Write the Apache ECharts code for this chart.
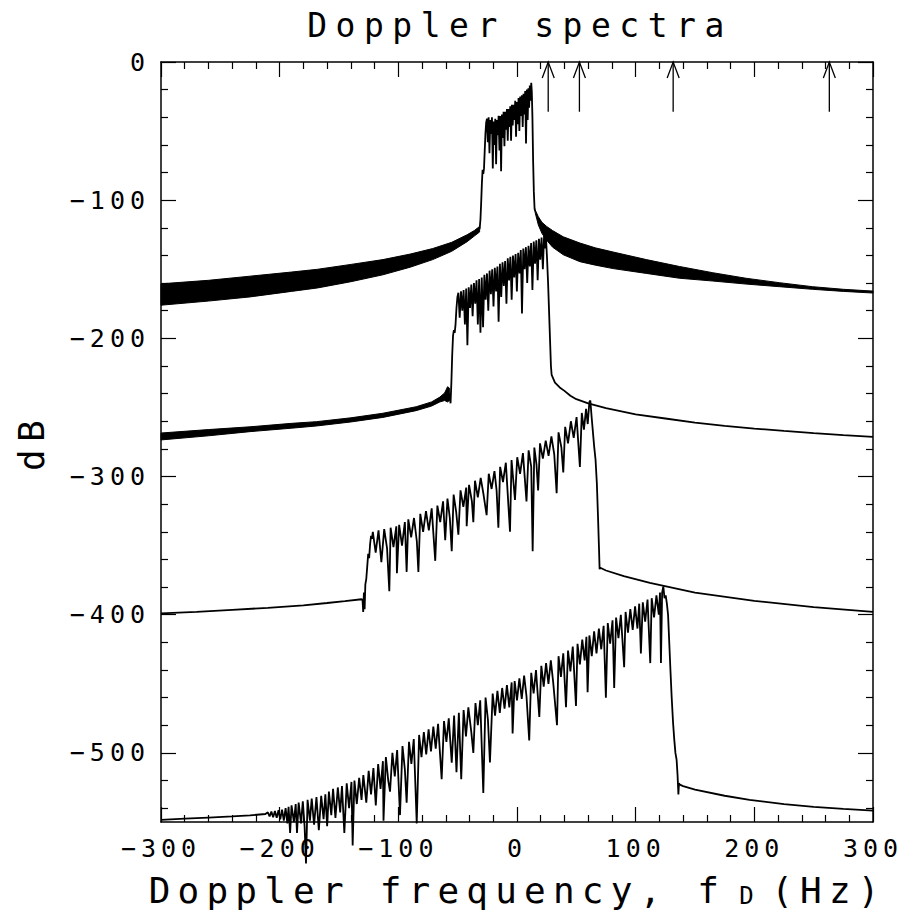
<!DOCTYPE html>
<html>
<head>
<meta charset="utf-8">
<title>Doppler spectra</title>
<script src="https://cdn.jsdelivr.net/npm/echarts@6.0.0/dist/echarts.min.js"></script>
<style>
  html, body { margin: 0; padding: 0; background: #fff; }
  #chart { width: 907px; height: 919px; }
  /* the reference uses a widely spaced plotter font */
  #chart text { letter-spacing: 0.2em; }
  #chart text[style*="33px"] { letter-spacing: 8.5px; }
  #chart text[style*="25px"] { letter-spacing: 5px; }
  #chart text[style*="24px"] { letter-spacing: 2px; }
</style>
</head>
<body>
<div id="chart"></div>
<script>
var FONT = '"DejaVu Sans Mono", monospace';

// tick values
var yMajorTicks = [0, -100, -200, -300, -400, -500];
var yMinorTicks = [-20, -40, -60, -80, -120, -140, -160, -180, -220, -240, -260, -280,
    -320, -340, -360, -380, -420, -440, -460, -480, -520, -540];

// arrows on top (Hz) and their length (dB)
var arrowFreqs = [26.3, 52.6, 131.6, 263.2];
var arrowLen = 36;

// dense oscillating tails, kept as [fD, upper dB, lower dB]
var band1Left = [[-300, -160.5, -176], [-260, -158, -173], [-225, -155, -170], [-190, -152, -166],
    [-168, -150, -163.5], [-140, -146.5, -159], [-113, -143, -154], [-90, -139, -148.5],
    [-71, -135, -143], [-55, -130.5, -137], [-42, -125, -130], [-36, -122, -126], [-31.5, -119, -123]];
var band1Right = [[15.3, -107, -109], [18, -112, -118], [21, -116, -124], [25, -119, -129],
    [30, -122, -134], [39, -126.5, -139.5], [53, -131, -144.5], [66, -134.5, -147], [81, -137.5, -149.5],
    [109, -143, -153], [137, -148, -156.5], [165, -152.5, -158.5], [193, -156.5, -160.7],
    [221, -159.7, -162.6], [249, -162.6, -164.5], [275, -164.5, -166], [300, -165.8, -167.2]];
var band2Left = [[-300, -268.5, -273.5], [-260, -266, -270.5], [-225, -264, -267.5], [-190, -261.5, -265],
    [-169, -260.3, -263.4], [-140, -257.5, -260.5], [-113, -254.2, -257.2], [-85, -249.5, -252.3],
    [-72, -246, -249], [-65, -242.5, -246], [-61, -239.5, -245], [-58.5, -235, -246], [-57, -236, -245]];

// spectrum 1 (top)
var spec1 = [[-31.5, -121], [-30.8, -114], [-30.2, -102], [-29.6, -88], [-29, -78], [-28.4, -81], [-27.8, -77],
    [-27.2, -64], [-26.6, -52], [-26, -44], [-25.3, -41], [-24.6, -58], [-23.9, -40], [-23.2, -66], [-22.5, -42],
    [-21.8, -52], [-21.1, -40], [-20.4, -77], [-19.7, -43], [-19, -60], [-18.3, -41], [-17.6, -74], [-16.9, -42],
    [-16.2, -53], [-15.5, -39], [-14.8, -64], [-14.1, -39], [-13.4, -79], [-12.7, -38], [-12, -55], [-11.3, -36],
    [-10.6, -61], [-9.9, -36], [-9.2, -49], [-8.5, -34], [-7.8, -57], [-7.1, -34], [-6.4, -47], [-5.7, -32],
    [-5, -57], [-4.3, -31], [-3.6, -46], [-2.9, -31], [-2.2, -42], [-1.5, -28], [-0.8, -54], [-0.1, -29],
    [0.6, -45], [1.3, -26], [2, -50], [2.7, -25], [3.4, -39], [4.1, -24], [4.8, -47], [5.5, -23], [6.2, -38],
    [6.9, -21], [7.6, -59], [8.3, -20], [9, -42], [9.6, -19], [10.2, -33], [10.8, -17], [11.4, -28], [12, -15],
    [12.5, -22], [13, -40], [13.6, -72], [14.2, -94], [14.8, -106], [15.3, -108]];

// spectrum 2
var spec2 = [[-57, -240], [-56, -247], [-55.3, -232], [-54.6, -212], [-53.9, -198], [-53.2, -194], [-52.5, -196],
    [-51.8, -190], [-51, -178], [-50.2, -170], [-49.4, -167], [-48.3, -185], [-47.2, -166], [-46.1, -180],
    [-45, -165], [-43.9, -190], [-42.8, -164], [-41.8, -205], [-40.7, -163], [-39.6, -178], [-38.5, -161],
    [-37.4, -184], [-36.3, -160], [-35.2, -175], [-34.1, -158], [-33, -190], [-31.9, -157], [-30.8, -196],
    [-29.7, -156], [-28.6, -192], [-27.5, -154], [-26.4, -172], [-25.3, -153], [-24.2, -180], [-23.1, -151],
    [-22, -168], [-20.9, -150], [-19.8, -177], [-18.7, -149], [-17.6, -166], [-16.5, -148], [-15.5, -188],
    [-14.4, -146], [-13.3, -170], [-12.2, -145], [-11.1, -162], [-10, -144], [-8.9, -175], [-7.8, -142],
    [-6.7, -158], [-5.6, -141], [-4.5, -172], [-3.4, -140], [-2.3, -156], [-1.2, -139], [-0.1, -166],
    [1, -138], [2.1, -153], [3.2, -136], [4.2, -182], [5.3, -135], [6.4, -150], [7.5, -134], [8.6, -160],
    [9.7, -133], [10.8, -148], [11.9, -131], [13, -165], [14.1, -130], [15.2, -146], [16.3, -129], [17.4, -158],
    [18.5, -128], [19.6, -143], [20.7, -127], [21.8, -150], [22.8, -126], [23.6, -135], [24.3, -125],
    [25.2, -140], [26.2, -160], [27.2, -185], [28, -205], [28.6, -220], [29.2, -226.5], [32, -232], [36, -235.5],
    [40, -238], [45, -241.5], [50, -244], [60, -247], [75, -250.5], [100, -255], [125, -258], [150, -261],
    [175, -263.3], [200, -265.3], [225, -267], [250, -268.6], [275, -270], [300, -271.3]];

// spectrum 3
var spec3 = [[-300, -399], [-270, -398], [-240, -396.5], [-210, -395], [-180, -393.2], [-160, -391.5],
    [-145, -390.2], [-131, -388.8], [-130.2, -389], [-129.6, -398], [-129, -384], [-128.4, -396], [-127.8, -378],
    [-127, -374], [-126.2, -365], [-125.4, -356], [-124.6, -359], [-123.8, -349], [-123, -343], [-122.2, -345],
    [-121.5, -340], [-119.1, -355], [-116.7, -339], [-114.3, -362], [-111.9, -338], [-109.5, -352],
    [-107.6, -383], [-106.5, -337], [-104.1, -351], [-101.7, -336], [-101.2, -370], [-99.3, -335],
    [-96.9, -350], [-94.5, -333], [-93, -369], [-91.6, -331], [-89.2, -344], [-86.8, -330], [-84.4, -347],
    [-83.1, -369], [-81.5, -327], [-79.1, -340], [-76.7, -325], [-74.3, -339], [-71.9, -323], [-68.9, -361],
    [-67.1, -321], [-64.7, -333], [-62.3, -318], [-60.5, -346], [-58.6, -316], [-56.6, -330], [-55, -354],
    [-53.4, -313], [-51.2, -326], [-49.4, -342], [-47.6, -310], [-45.2, -322], [-42.8, -308], [-42.4, -336],
    [-40.4, -306], [-38, -318], [-36.8, -333], [-35.4, -303], [-33, -315], [-30.6, -301], [-28.2, -313],
    [-25.6, -328], [-23.8, -298], [-21.4, -309], [-19, -296], [-17.2, -310], [-15.7, -337], [-14.2, -293],
    [-11.8, -304], [-9.4, -290], [-5.9, -340], [-4.6, -288], [-1.7, -317], [0.2, -286], [2.6, -298], [5, -283],
    [8, -318], [9.8, -281], [12, -293], [13.2, -354], [14.6, -279], [16.4, -291], [17.8, -310], [19.4, -276],
    [21.8, -287], [24.2, -274], [26.6, -285], [29, -271], [31.4, -284], [33.4, -312], [35, -268], [37.4, -279],
    [39, -297], [40.6, -264], [43, -276], [45.4, -260], [47.8, -272], [50.2, -257], [53, -293], [54.6, -254],
    [56.4, -266], [58.2, -251], [59.6, -262], [61, -246], [61.8, -245], [62.8, -256], [63.8, -266], [65, -278],
    [66.2, -288], [67.3, -305], [68.3, -330], [69.1, -352], [69.6, -367], [70.2, -366], [75, -368], [90, -372],
    [112, -377], [150, -384], [200, -390], [250, -394.5], [300, -398]];

// spectrum 4 (bottom)
var spec4 = [[-300, -548.5], [-280, -547.6], [-260, -546.8], [-240, -546], [-225, -545.2], [-212, -544.2],
    [-210, -543], [-208.5, -546], [-207, -542.5], [-205.5, -546.5], [-204, -542], [-202.5, -547], [-201, -541.5],
    [-199.5, -548], [-198, -541], [-196.5, -549], [-195, -540], [-193.5, -551], [-192.5, -539], [-191.2, -558],
    [-190, -538], [-188, -550], [-186.5, -537], [-185.4, -558], [-184, -536], [-182, -551], [-180.5, -535],
    [-179, -553], [-177.8, -580], [-176.5, -534], [-174.5, -549], [-173, -533], [-171, -552], [-169, -532],
    [-167, -556], [-165, -531], [-163, -548], [-161.5, -530], [-160, -553], [-158.5, -528], [-156.5, -545],
    [-155, -526], [-153, -547], [-151, -525], [-149, -543], [-147.5, -524], [-145.5, -558], [-143.5, -522],
    [-141.5, -540], [-139.5, -521], [-138.5, -567], [-137, -520], [-135, -537], [-133, -518], [-131, -534],
    [-129.5, -516], [-127, -536], [-125, -513], [-123, -530], [-121, -511], [-119, -538], [-117, -508],
    [-115, -526], [-113, -506], [-112.5, -549], [-110.5, -503], [-108.5, -520], [-107, -528], [-105, -500],
    [-103, -517], [-101, -498], [-98.6, -545], [-96.5, -495], [-94.5, -512], [-93, -536], [-91, -492],
    [-89, -508], [-87, -490], [-84.5, -551], [-82.5, -487], [-80.5, -503], [-78.5, -485], [-76.5, -501],
    [-74.5, -483], [-72.5, -499], [-70.5, -481], [-68.5, -497], [-66.5, -479], [-63.5, -519], [-61.5, -477],
    [-59.5, -492], [-57.5, -475], [-55, -507], [-53, -473], [-51, -514], [-49, -471], [-47, -519], [-45, -469],
    [-43, -488], [-41, -467], [-38.5, -485], [-36.8, -500], [-35, -464], [-33, -480], [-31, -462],
    [-28.4, -529], [-26.5, -460], [-24.5, -476], [-22.8, -507], [-20.5, -457], [-18.5, -473], [-16.5, -455],
    [-14.5, -471], [-12.5, -453], [-10.5, -468], [-8.5, -451], [-6.5, -467], [-4.5, -449], [-3.7, -486],
    [-2, -448], [0, -462], [2, -446], [4, -461], [6, -444], [8, -459], [10.3, -491], [12, -442], [14, -457],
    [16, -440], [18.8, -474], [20.5, -437], [22.5, -452], [24.5, -435], [26.5, -450], [28.5, -433],
    [30.5, -449], [33.7, -480], [35, -430], [37, -445], [39, -428], [41.3, -467], [43, -426], [45, -441],
    [47, -423], [49.7, -466], [51, -421], [53, -436], [55, -418], [57, -433], [58.5, -416], [59.5, -456],
    [61, -415], [63, -430], [65, -412], [67, -428], [69, -410], [71, -425], [73, -408], [74.9, -460],
    [76.5, -406], [78.5, -421], [80.5, -404], [81.9, -453], [83.5, -402], [85.5, -417], [87.5, -400],
    [90.3, -438], [91.5, -398], [93.5, -413], [95.5, -396], [97.5, -411], [99.5, -394], [101.5, -410],
    [103, -392], [104.4, -428], [106, -391], [108, -405], [110, -389], [112.3, -435], [113.5, -388],
    [115.5, -402], [117.5, -386], [119.5, -400], [120.5, -384], [121.3, -435], [122.3, -384], [123.3, -379.5],
    [124.3, -388], [125.3, -386], [126.3, -392], [127.3, -400], [128.3, -420], [129.3, -440], [130.3, -459],
    [131.5, -478], [132.5, -490], [133.5, -500], [134.5, -505], [135.3, -516], [136, -530], [136.5, -522],
    [137.2, -523], [140, -524], [150, -526.5], [175, -531], [196, -534], [225, -537], [250, -539],
    [275, -540.5], [300, -541.8]];

var chart = echarts.init(document.getElementById('chart'), null, { renderer: 'svg' });

function minusLabel(v) {
    return v < 0 ? '\u2212' + (-v) : String(v);
}

function bandItem(band) {
    return function (params, api) {
        var pts = [];
        band.forEach(function (d) { pts.push(api.coord([d[0], d[1]])); });
        for (var i = band.length - 1; i >= 0; i--) {
            pts.push(api.coord([band[i][0], band[i][2]]));
        }
        return {
            type: 'polygon',
            shape: { points: pts },
            style: { fill: '#000', stroke: '#000', lineWidth: 1 }
        };
    };
}

function lineSeries(data) {
    return {
        type: 'line',
        data: data,
        symbol: 'none',
        showSymbol: false,
        clip: false,
        silent: true,
        lineStyle: { color: '#000', width: 1.8 }
    };
}

var axisLineStyle = { show: true, onZero: false, lineStyle: { color: '#000', width: 1.5 } };

function xAxisCfg(pos, withLabels) {
    var a = {
        type: 'value',
        position: pos,
        min: -300,
        max: 300,
        interval: 100,
        axisLine: axisLineStyle,
        axisTick: { show: true, inside: true, length: 15, lineStyle: { color: '#000', width: 1.2 } },
        minorTick: { show: true, splitNumber: 5, length: 7, lineStyle: { color: '#000', width: 1.2 } },
        splitLine: { show: false },
        axisLabel: { show: withLabels, margin: 14, fontFamily: FONT, fontSize: 25, color: '#000', formatter: minusLabel }
    };
    if (withLabels) {
        a.name = '{a|Doppler frequency, f}{sub|D}{b|(Hz)}';
        a.nameLocation = 'middle';
        a.nameGap = 50;
        a.nameMoveOverlap = false;
        a.nameTextStyle = {
            fontFamily: FONT, fontSize: 36, color: '#000',
            rich: {
                a: { fontFamily: FONT, fontSize: 36, color: '#000', padding: [0, 0, 0, 87] },
                sub: { fontFamily: FONT, fontSize: 24, color: '#000', lineHeight: 24,
                    verticalAlign: 'bottom', padding: [32, 0, 0, 86] },
                b: { fontFamily: FONT, fontSize: 36, color: '#000', padding: [0, 28, 0, 31] }
            }
        };
    }
    return a;
}

function yAxisCfg(pos, ticks, len, withLabels) {
    var a = {
        type: 'value',
        position: pos,
        min: -550,
        max: 0,
        axisLine: withLabels ? axisLineStyle : { show: false, onZero: false },
        axisTick: { show: true, inside: true, length: len, customValues: ticks, lineStyle: { color: '#000', width: 1.2 } },
        splitLine: { show: false },
        axisLabel: { show: withLabels, customValues: ticks, margin: 11, fontFamily: FONT, fontSize: 25, color: '#000', formatter: minusLabel }
    };
    if (withLabels && pos === 'left') {
        a.name = 'dB';
        a.nameLocation = 'middle';
        a.nameGap = 112;
        a.nameMoveOverlap = false;
        a.nameTextStyle = { fontFamily: FONT, fontSize: 36, color: '#000' };
    }
    return a;
}

var option = {
    animation: false,
    backgroundColor: '#fff',
    title: {
        text: 'Doppler spectra',
        left: 515,
        top: 4,
        textAlign: 'center',
        textStyle: { fontFamily: FONT, fontSize: 33, fontWeight: 'normal', color: '#000' }
    },
    grid: { left: 161, right: 34, top: 62, bottom: 97, outerBoundsMode: 'none' },
    xAxis: [xAxisCfg('bottom', true), xAxisCfg('top', false)],
    yAxis: [
        yAxisCfg('left', yMajorTicks, 15, true),
        yAxisCfg('left', yMinorTicks, 7, false),
        yAxisCfg('right', yMajorTicks, 15, true),
        yAxisCfg('right', yMinorTicks, 7, false)
    ],
    series: [
        { type: 'custom', silent: true, renderItem: bandItem(band1Left), data: [[band1Left[0][0], band1Left[0][1]]] },
        { type: 'custom', silent: true, renderItem: bandItem(band1Right), data: [[band1Right[0][0], band1Right[0][1]]] },
        { type: 'custom', silent: true, renderItem: bandItem(band2Left), data: [[band2Left[0][0], band2Left[0][1]]] },
        lineSeries(spec1),
        lineSeries(spec2),
        lineSeries(spec3),
        lineSeries(spec4),
        {
            type: 'custom',
            silent: true,
            data: arrowFreqs.map(function (f) { return [f, 0]; }),
            renderItem: function (params, api) {
                var f = api.value(0);
                var tip = api.coord([f, 0]);
                var tail = api.coord([f, -arrowLen]);
                return {
                    type: 'group',
                    children: [
                        { type: 'line', shape: { x1: tail[0], y1: tail[1], x2: tip[0], y2: tip[1] },
                          style: { stroke: '#000', lineWidth: 1.3 } },
                        { type: 'polyline', shape: { points: [[tip[0] - 6, tip[1] + 16], [tip[0], tip[1]], [tip[0] + 6, tip[1] + 16]] },
                          style: { stroke: '#000', fill: null, lineWidth: 1.3 } }
                    ]
                };
            }
        }
    ]
};
// right-hand major axis keeps only ticks
option.yAxis[2].axisLabel.show = false;

chart.setOption(option);
window.addEventListener('resize', function () { chart.resize(); });
</script>
</body>
</html>
